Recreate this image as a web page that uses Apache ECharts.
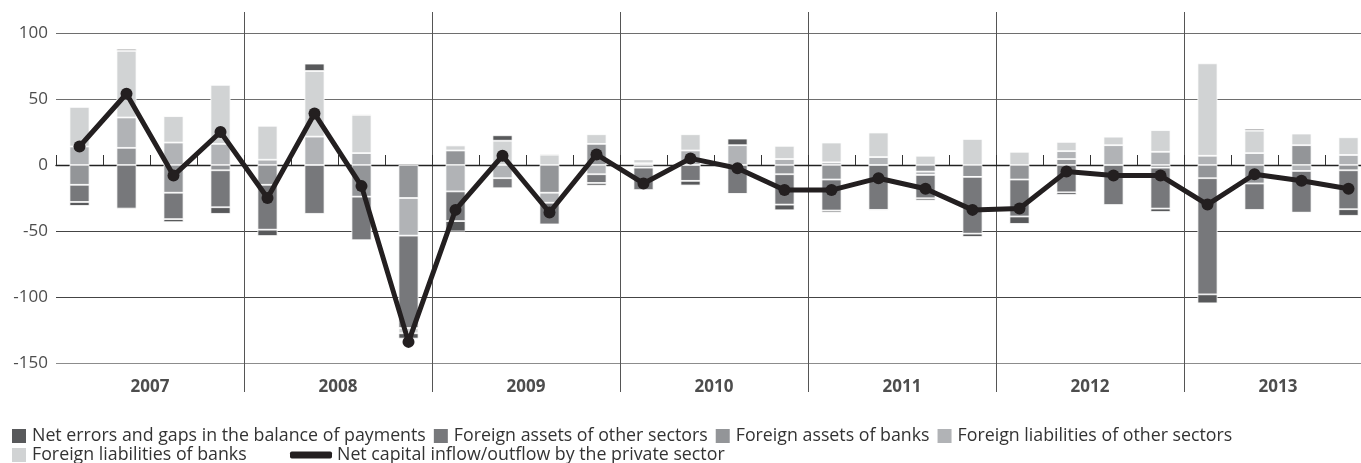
<!DOCTYPE html>
<html>
<head>
<meta charset="utf-8">
<script src="https://cdn.jsdelivr.net/npm/echarts@6/dist/echarts.min.js"></script>
<style>
  html, body { margin: 0; padding: 0; background: #fff; overflow: hidden; }
  /* the plot runs past the right edge of the window, as in the original */
  #chart { width: 1372px; height: 463px; }
</style>
</head>
<body>
<div id="chart"></div>
<script>
const YEARS = ["2007", "2008", "2009", "2010", "2011", "2012", "2013"];
const QUARTERS = YEARS.flatMap((y) => ["Q1", "Q2", "Q3", "Q4"].map((q) => y + " " + q));

// stacked from zero outwards in this order
const assetsBanks = [-15, 13, -21, -4, -15, 0, -24, -25, 11, 0, -21, 16, -2, 0, 0, -7, -11, 0, -5, -9, -11, 4.5, 0, -2, -10, -14, 15, -4];
const liabOther = [14, 23, 17, 16, 4, 21.5, 9, -28.5, -20, -10, -7.6, -7, 1.3, 11, 15, 4.5, 2, 6, -2.5, 0, 0, 6, 15, 10, 7, 9, -4.5, 7.6];
const assetsOther = [-13, -33, -20, -28, -34, -37, -33, -70, -22.5, -7.6, -16.4, -6.6, -17, -12, -22, -23, -23.5, -34, -17.7, -43, -28, -20.7, -30.3, -31, -88, -20, -31.6, -29.5];
const liabBanks = [30, 50.5, 20, 44.7, 25.7, 49.7, 29, -4, 3.8, 18.4, 7.8, 7.3, 3, 12.3, 0, 10, 15, 18.6, 7, 19.7, 10, 7, 6.5, 16.4, 70, 17, 8.8, 13.4];
const netErrors = [-3, 1.5, -2.3, -5, -4.8, 5.6, 0.8, -4, -7.8, 4.1, 0.8, -2, 0, -3.5, 5, -4.3, -1.5, -0.8, -1.7, -2.5, -5.6, -2, 0, -2.6, -6.8, 1.5, -0.5, -5];
const netFlow = [14, 54, -8, 25, -25, 39, -16, -134, -34, 7, -36, 8, -14, 5, -2.5, -19, -19, -10, -18, -34, -33, -5, -8, -8, -30, -7, -12, -18];

const NAMES = {
  netErrors: "Net errors and gaps in the balance of payments",
  assetsOther: "Foreign assets of other sectors",
  assetsBanks: "Foreign assets of banks",
  liabOther: "Foreign liabilities of other sectors",
  liabBanks: "Foreign liabilities of banks",
  netFlow: "Net capital inflow/outflow by the private sector"
};
const COLORS = {
  netErrors: "#58595b",
  assetsOther: "#77787b",
  assetsBanks: "#939598",
  liabOther: "#b1b3b6",
  liabBanks: "#d1d3d4",
  netFlow: "#231f20"
};

const FONT = "Open Sans";
const TEXT = "#4d4d4d";

const barSeries = [
  ["assetsBanks", assetsBanks],
  ["liabOther", liabOther],
  ["assetsOther", assetsOther],
  ["liabBanks", liabBanks],
  ["netErrors", netErrors]
].map(([key, values]) => ({
  name: NAMES[key],
  type: "bar",
  stack: "flows",
  xAxisIndex: 0,
  yAxisIndex: 0,
  barWidth: 20,
  itemStyle: { color: COLORS[key], borderColor: "#fff", borderWidth: 0.8 },
  data: values
}));

const legendText = { fontFamily: FONT, fontSize: 17.8, color: "#333" };

const chart = echarts.init(document.getElementById("chart"), null, { renderer: "canvas" });
chart.setOption({
  animation: false,
  grid: [
    { left: 56, right: 0, top: 33, bottom: 100 },
    { left: 56, right: 0, top: 12, bottom: 71 }
  ],
  xAxis: [
    {
      type: "category",
      gridIndex: 0,
      data: QUARTERS,
      position: "bottom",
      axisLine: { onZero: true, lineStyle: { color: "#222", width: 1.3 } },
      axisTick: { show: true, inside: true, length: 10, interval: 0, lineStyle: { color: "#333", width: 1 } },
      axisLabel: { show: false },
      splitLine: { show: false }
    },
    {
      type: "category",
      gridIndex: 0,
      data: YEARS,
      position: "bottom",
      axisLine: { show: false, onZero: false },
      axisTick: { show: false },
      axisLabel: { margin: 16, fontFamily: FONT, fontSize: 17, fontWeight: "bold", color: TEXT },
      splitLine: { show: false }
    },
    {
      type: "value",
      gridIndex: 1,
      min: 0,
      max: 7,
      interval: 1,
      axisLine: { show: false },
      axisTick: { show: false },
      axisLabel: { show: false },
      splitLine: { show: true, showMinLine: false, lineStyle: { color: "#555", width: 1 } }
    }
  ],
  yAxis: [
    {
      type: "value",
      gridIndex: 0,
      min: -150,
      max: 100,
      interval: 50,
      axisLine: { show: false },
      axisTick: { show: false },
      axisLabel: { margin: 8, fontFamily: FONT, fontSize: 17, color: TEXT },
      splitLine: {
        show: true,
        lineStyle: { color: ["#8c8c8c", "#444", "#444", "#222", "#6e6e6e", "#6e6e6e"], width: 1.2 }
      }
    },
    { type: "value", gridIndex: 1, show: false, min: 0, max: 1 }
  ],
  legend: [
    {
      left: 10, top: 427, itemWidth: 16, itemHeight: 16, itemGap: 6, icon: "rect",
      textStyle: legendText, padding: 0,
      data: [NAMES.netErrors, NAMES.assetsOther, NAMES.assetsBanks, NAMES.liabOther]
    },
    {
      left: 10, top: 446, itemWidth: 16, itemHeight: 16, itemGap: 6, icon: "rect",
      textStyle: legendText, padding: 0,
      data: [NAMES.liabBanks]
    },
    {
      left: 290, top: 446, itemWidth: 42, itemHeight: 7, icon: "roundRect",
      textStyle: legendText, padding: 0,
      data: [NAMES.netFlow]
    }
  ],
  series: [
    ...barSeries,
    {
      name: NAMES.netFlow,
      type: "line",
      xAxisIndex: 0,
      yAxisIndex: 0,
      data: netFlow,
      symbol: "circle",
      symbolSize: 12,
      lineStyle: { color: COLORS.netFlow, width: 5 },
      itemStyle: { color: COLORS.netFlow },
      z: 5
    }
  ]
});
</script>
</body>
</html>
